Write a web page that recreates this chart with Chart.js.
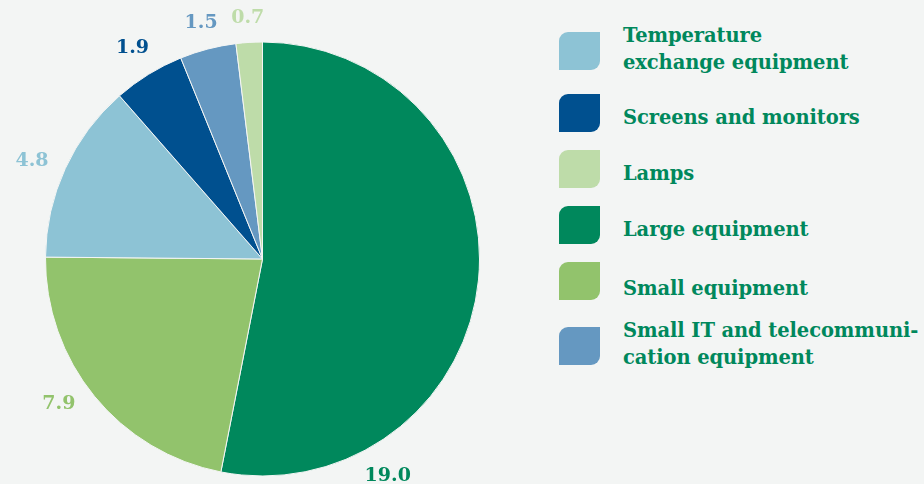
<!DOCTYPE html>
<html>
<head>
<meta charset="utf-8">
<script src="https://cdn.jsdelivr.net/npm/chart.js@4.4.1/dist/chart.umd.min.js"></script>
<style>
  html, body { margin: 0; padding: 0; background: #f3f5f4; }
  body { width: 924px; height: 484px; position: relative; overflow: hidden;
         font-family: "DejaVu Serif", serif; font-weight: bold; }
  #pieWrap { position: absolute; left: 0; top: 0; width: 525px; height: 484px; }
  #legend { position: absolute; left: 559px; top: 0; width: 365px; height: 484px; }
  .swatch { position: absolute; left: 0; width: 41px; height: 38px;
            border-radius: 9px 0 9px 0; }
  .label { position: absolute; left: 64px; color: #00885c; font-size: 19.5px;
           line-height: 27px; white-space: nowrap; letter-spacing: -0.1px; }
</style>
</head>
<body>
<div id="pieWrap"><canvas id="pieChart" width="525" height="484"></canvas></div>
<div id="legend"></div>
<script>
// categories in legend order
const categories = [
  ['Temperature', 'exchange equipment'],
  ['Screens and monitors'],
  ['Lamps'],
  ['Large equipment'],
  ['Small equipment'],
  ['Small IT and telecommuni-', 'cation equipment']
];
const values = [4.8, 1.9, 0.7, 19.0, 7.9, 1.5];
const colors = ['#8dc3d5', '#00508f', '#bedca9', '#00885c', '#92c36c', '#6598c1'];
// slices drawn clockwise from 12 o'clock
const drawOrder = [3, 4, 0, 1, 5, 2];

// legend layout (top of swatch, top of text block)
const legendRows = [
  { swatch: 32, text: 22 },
  { swatch: 94, text: 104 },
  { swatch: 150, text: 160 },
  { swatch: 206, text: 216 },
  { swatch: 262, text: 275 },
  { swatch: 327, text: 317 }
];

const legend = document.getElementById('legend');
categories.forEach((lines, i) => {
  const sw = document.createElement('div');
  sw.className = 'swatch';
  sw.style.top = legendRows[i].swatch + 'px';
  sw.style.background = colors[i];
  legend.appendChild(sw);
  const lb = document.createElement('div');
  lb.className = 'label';
  lb.style.top = legendRows[i].text + 'px';
  lb.innerHTML = lines.join('<br>');
  legend.appendChild(lb);
});

// value labels outside each slice, in the slice colour;
// pushed out by half the text box so the gap to the rim stays even
const outerLabels = {
  id: 'outerLabels',
  afterDatasetsDraw(chart, args, opts) {
    const ctx = chart.ctx;
    const meta = chart.getDatasetMeta(0);
    const ds = chart.data.datasets[0];
    ctx.save();
    ctx.font = 'bold 19px "DejaVu Serif", serif';
    ctx.textAlign = 'center';
    ctx.textBaseline = 'middle';
    meta.data.forEach((arc, i) => {
      let angle = (arc.startAngle + arc.endAngle) / 2;
      if (opts.angles && opts.angles[i] !== undefined) angle = opts.angles[i];
      const text = ds.data[i].toFixed(1);
      const hw = ctx.measureText(text).width / 2;
      const hh = 8;
      const cx = Math.cos(angle), cy = Math.sin(angle);
      const r = arc.outerRadius + opts.gap + Math.abs(cx) * hw + Math.abs(cy) * hh;
      ctx.fillStyle = ds.backgroundColor[i];
      ctx.fillText(text, arc.x + cx * r, arc.y + cy * r);
    });
    ctx.restore();
  }
};

const deg = Math.PI / 180;
const ctx = document.getElementById('pieChart').getContext('2d');
new Chart(ctx, {
  type: 'pie',
  data: {
    labels: drawOrder.map(i => categories[i].join(' ')),
    datasets: [{
      data: drawOrder.map(i => values[i]),
      backgroundColor: drawOrder.map(i => colors[i]),
      borderColor: '#f3f5f4',
      borderWidth: 1
    }]
  },
  options: {
    responsive: false,
    animation: false,
    layout: { padding: { left: 45, right: 45, top: 41, bottom: 7 } },
    plugins: {
      legend: { display: false },
      tooltip: { enabled: false },
      outerLabels: { gap: 15, angles: { 0: 60 * deg, 1: 144.5 * deg, 2: 203 * deg } }
    }
  },
  plugins: [outerLabels]
});
</script>
</body>
</html>
